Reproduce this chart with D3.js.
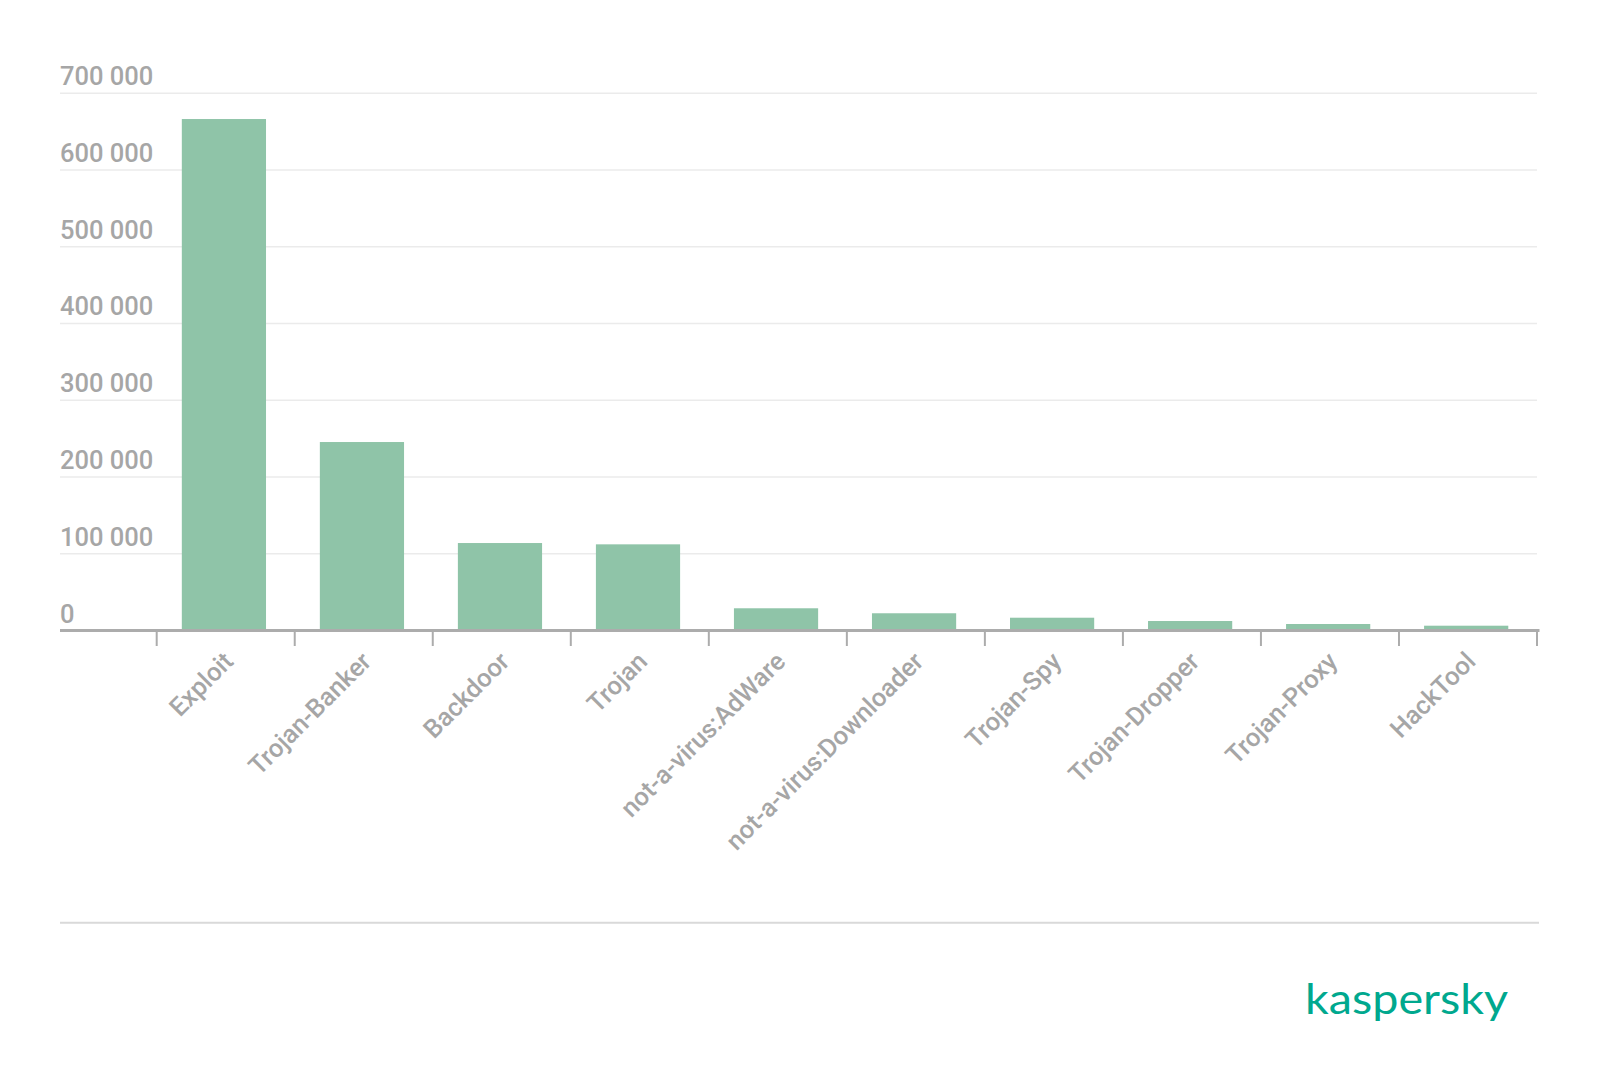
<!DOCTYPE html>
<html>
<head>
<meta charset="utf-8">
<script src="https://cdn.jsdelivr.net/npm/d3@7"></script>
<style>
  html, body { margin: 0; padding: 0; background: #fff; }
  svg { display: block; }
  text { font-family: Roboto, "Noto Sans", sans-serif; }
</style>
</head>
<body>
<svg id="chart" width="1600" height="1086"></svg>
<script>
const categories = ["Exploit", "Trojan-Banker", "Backdoor", "Trojan", "not-a-virus:AdWare",
  "not-a-virus:Downloader", "Trojan-Spy", "Trojan-Dropper", "Trojan-Proxy", "HackTool"];
const values = [665700, 244900, 113300, 111600, 28300, 21800, 16000, 11700, 7800, 5600];
const yTicks = [0, 100000, 200000, 300000, 400000, 500000, 600000, 700000];
const logoText = "kaspersky";

const svg = d3.select("#chart");
const gridLeft = 60, gridRight = 1537;
const y0 = 630, yTop = 92.7;

const x = d3.scaleBand().domain(categories).range([156.7, 1537]).paddingInner(0.39).paddingOuter(0.195);
const y = d3.scaleLinear().domain([0, 700000]).range([y0, yTop]);

const fmt = d3.formatLocale({decimal: ".", thousands: " ", grouping: [3], currency: ["", ""]}).format(",d");

// gridlines + y labels
const yAxis = d3.axisRight(y).tickValues(yTicks).tickSize(gridRight - gridLeft).tickFormat(fmt);
const gy = svg.append("g").attr("transform", `translate(${gridLeft},0)`).call(yAxis);
gy.select(".domain").remove();
gy.selectAll(".tick line").attr("stroke", "#ebebeb").attr("stroke-width", 1.6);
gy.selectAll(".tick text")
  .attr("x", 0).attr("dy", "-8").attr("y", 0)
  .attr("text-anchor", "start")
  .attr("fill", "#a6a6a6").style("font-size", "25.5px").style("font-weight", "500");

// bars
const barShift = -1.8;
svg.append("g").selectAll("rect").data(values).join("rect")
  .attr("x", (d, i) => x(categories[i]) + barShift)
  .attr("width", x.bandwidth())
  .attr("y", d => y(d))
  .attr("height", d => y(0) - y(d))
  .attr("fill", "#8fc4a8");

// x axis
const gap = x.step() - x.bandwidth();
const tickXs = categories.map(c => x(c) - gap / 2).concat([x(categories[categories.length - 1]) + x.bandwidth() + gap / 2]);
svg.append("line").attr("x1", gridLeft).attr("x2", 1539.5).attr("y1", y0 + 0.5).attr("y2", y0 + 0.5)
  .attr("stroke", "#acacac").attr("stroke-width", 3);
svg.append("g").selectAll("line").data(tickXs).join("line")
  .attr("x1", d => d).attr("x2", d => d).attr("y1", y0).attr("y2", y0 + 16)
  .attr("stroke", "#acacac").attr("stroke-width", 2);

svg.append("g").selectAll("text").data(categories).join("text")
  .attr("transform", c => `translate(${x(c) + x.bandwidth() / 2 + 9},${y0 + 33}) rotate(-45)`)
  .attr("text-anchor", "end")
  .attr("fill", "#a6a6a6")
  .style("font-size", "25.5px")
  .style("font-weight", "500")
  .text(c => c);

// bottom separator
svg.append("line").attr("x1", gridLeft).attr("x2", 1539).attr("y1", 922.7).attr("y2", 922.7)
  .attr("stroke", "#d9d9d9").attr("stroke-width", 2);

// logo
svg.append("text").attr("x", 1305).attr("y", 1014)
  .attr("textLength", 203).attr("lengthAdjust", "spacingAndGlyphs")
  .attr("fill", "#00a88e")
  .style("font-family", "Lato, 'Open Sans', sans-serif")
  .style("font-size", "42px")
  .text(logoText);
</script>
</body>
</html>
